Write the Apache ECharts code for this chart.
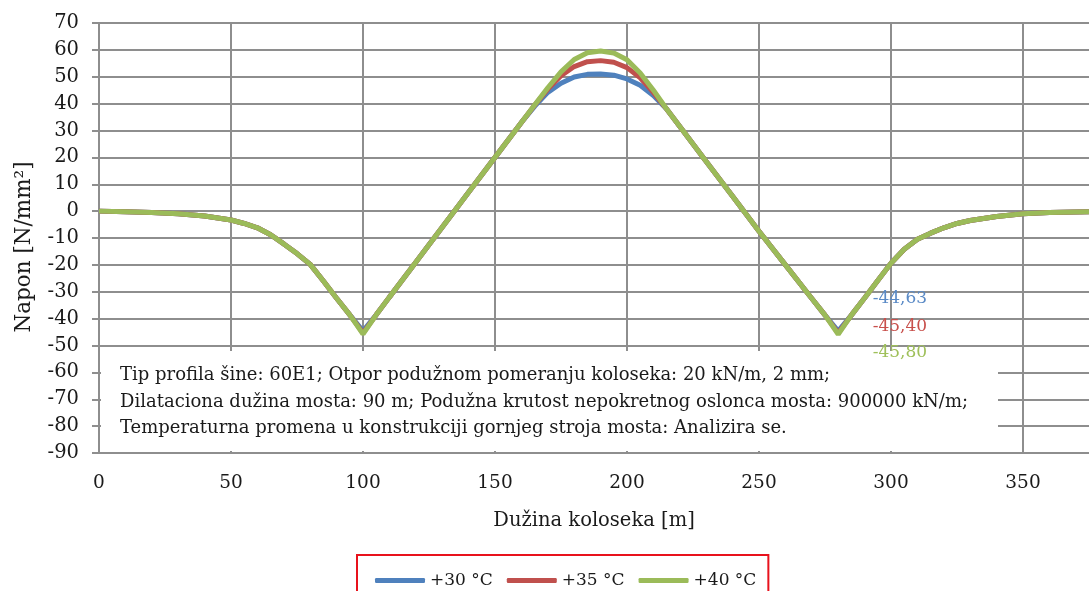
<!DOCTYPE html>
<html>
<head>
<meta charset="utf-8">
<script src="https://cdn.jsdelivr.net/npm/echarts@6/dist/echarts.min.js"></script>
<style>html,body{margin:0;padding:0;background:#fff}#c{width:1089px;height:591px}</style>
</head>
<body>
<div id="c"></div>
<script>
// Distance along the track [m]
const dist = [0,10,20,30,40,50,55,60,65,70,75,80,85,90,95,100,105,110,120,130,140,150,160,165,170,175,180,185,190,195,200,205,210,215,220,230,240,250,260,270,275,280,285,290,295,300,305,310,315,320,325,330,340,350,360,370,375];
// Stress [N/mm2] for +30 °C
const s30 = [0,-0.2,-0.5,-1.0,-1.8,-3.3,-4.6,-6.2,-8.8,-12.2,-15.8,-19.8,-26.0,-32.4,-38.6,-44.63,-38.6,-32.0,-19.0,-6.0,7.0,20.0,33.0,39.0,44.2,47.6,49.9,50.9,51.0,50.6,49.2,46.8,43.0,38.0,31.5,18.5,5.5,-7.5,-20.0,-32.5,-38.7,-44.63,-38.7,-32.3,-25.8,-19.4,-14.2,-10.5,-8.2,-6.2,-4.6,-3.5,-2.0,-1.0,-0.5,-0.3,-0.2];
// Stress [N/mm2] for +35 °C
const s35 = [0,-0.2,-0.5,-1.0,-1.8,-3.3,-4.6,-6.2,-8.8,-12.2,-15.8,-19.8,-26.0,-32.4,-38.6,-45.40,-38.6,-32.0,-19.0,-6.0,7.0,20.0,33.0,39.4,45.4,50.4,53.8,55.6,56.0,55.4,53.4,49.6,44.2,38.0,31.5,18.5,5.5,-7.5,-20.0,-32.5,-38.7,-45.40,-38.7,-32.3,-25.8,-19.4,-14.2,-10.5,-8.2,-6.2,-4.6,-3.5,-2.0,-1.0,-0.5,-0.3,-0.2];
// Stress [N/mm2] for +40 °C
const s40 = [0,-0.2,-0.5,-1.0,-1.8,-3.3,-4.6,-6.2,-8.8,-12.2,-15.8,-19.8,-26.0,-32.4,-38.6,-45.80,-38.6,-32.0,-19.0,-6.0,7.0,20.0,33.0,39.5,45.9,51.8,56.4,58.9,59.6,58.8,56.3,51.4,45.0,38.0,31.5,18.5,5.5,-7.5,-20.0,-32.5,-38.7,-45.80,-38.7,-32.3,-25.8,-19.4,-14.2,-10.5,-8.2,-6.2,-4.6,-3.5,-2.0,-1.0,-0.5,-0.3,-0.2];
const seriesNames = ['+30 °C','+35 °C','+40 °C'];
const labelAt = 280;
const noteLines = [
  'Tip profila šine: 60E1; Otpor podužnom pomeranju koloseka: 20 kN/m, 2 mm;',
  'Dilataciona dužina mosta: 90 m; Podužna krutost nepokretnog oslonca mosta: 900000 kN/m;',
  'Temperaturna promena u konstrukciji gornjeg stroja mosta: Analizira se.'
];
const xName = 'Dužina koloseka [m]';
const yName = 'Napon [N/mm²]';

const FONT = 'DejaVu Serif';
const colors = ['#4f81bd','#c0504d','#9bbb59'];
const labelColors = ['#5a8ac6','#c8504c','#9fc05a'];
const labelOffsets = [[34,-32],[34,-7],[34,18]];
const gridColor = '#8e8e8e';

const chart = echarts.init(document.getElementById('c'), null, {renderer:'canvas'});
chart.setOption({
  animation:false,
  color:colors,
  grid:{left:99, top:23, right:0, bottom:138, containLabel:false},
  xAxis:{type:'value', min:0, max:375, interval:50,
    name:xName, nameLocation:'middle', nameGap:58,
    nameTextStyle:{fontFamily:FONT, fontSize:19.5, color:'#1a1a1a'},
    axisLine:{show:true, onZero:false, lineStyle:{color:gridColor, width:2}},
    axisTick:{show:false},
    axisLabel:{margin:21, fontFamily:FONT, fontSize:18.5, color:'#1a1a1a', showMaxLabel:false},
    splitLine:{show:true, showMaxLine:false, lineStyle:{color:gridColor, width:2}}
  },
  yAxis:{type:'value', min:-90, max:70, interval:10,
    name:yName, nameLocation:'middle', nameGap:64, nameRotate:90,
    nameTextStyle:{fontFamily:FONT, fontSize:21.5, color:'#1a1a1a', padding:[0,18,0,0]},
    axisLine:{show:true, lineStyle:{color:gridColor, width:2}},
    axisTick:{show:true, length:7, lineStyle:{color:gridColor, width:2}},
    axisLabel:{margin:20, fontFamily:FONT, fontSize:19.5, color:'#1a1a1a'},
    splitLine:{show:true, lineStyle:{color:gridColor, width:2}}
  },
  legend:{left:357, top:555, orient:'horizontal', padding:[17,12,20,18], itemGap:14,
    itemWidth:50, itemHeight:5, icon:'roundRect',
    borderColor:'#e8121c', borderWidth:2,
    textStyle:{fontFamily:FONT, fontSize:17, color:'#1a1a1a'},
    data:seriesNames},
  graphic:{elements:[
    {type:'rect', z:1, shape:{x:101, y:351, width:897, height:100}, style:{fill:'#ffffff'}},
    {type:'text', z:1, x:120, y:375, style:{text:noteLines[0], fontFamily:FONT, fontSize:18, fill:'#1a1a1a', verticalAlign:'middle'}},
    {type:'text', z:1, x:120, y:402, style:{text:noteLines[1], fontFamily:FONT, fontSize:18, fill:'#1a1a1a', verticalAlign:'middle'}},
    {type:'text', z:1, x:120, y:428, style:{text:noteLines[2], fontFamily:FONT, fontSize:18, fill:'#1a1a1a', verticalAlign:'middle'}}
  ]},
  series:[s30,s35,s40].map((vals,k)=>({
    name:seriesNames[k], type:'line', z:3, showSymbol:false, symbol:'none', clip:true,
    lineStyle:{width:5, color:colors[k]},
    data:dist.map((d,i)=>[d, vals[i]]),
    markPoint:{
      symbol:'circle', symbolSize:1, silent:true,
      itemStyle:{color:'rgba(0,0,0,0)'},
      label:{show:true, position:'right', distance:0, offset:labelOffsets[k],
        color:labelColors[k], fontFamily:FONT, fontSize:17,
        formatter:(p)=>Number(p.value).toFixed(2).replace('.',',')},
      data:[{coord:[labelAt, vals[dist.indexOf(labelAt)]], value:vals[dist.indexOf(labelAt)]}]
    }
  }))
});
</script>
</body>
</html>
